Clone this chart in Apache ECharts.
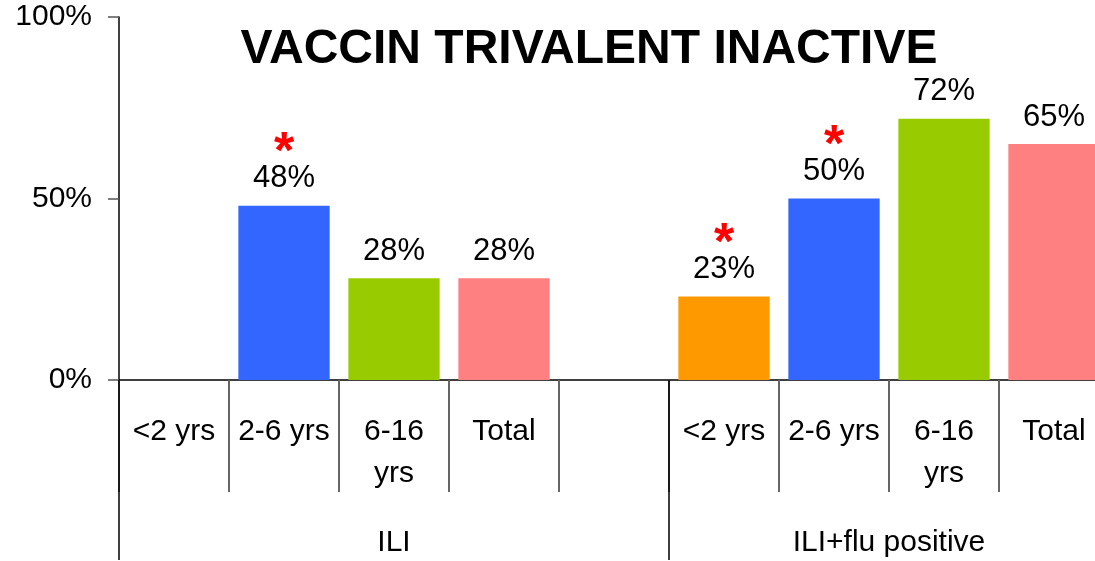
<!DOCTYPE html>
<html>
<head>
<meta charset="utf-8">
<script src="https://cdn.jsdelivr.net/npm/echarts@6/dist/echarts.min.js"></script>
<style>
  html, body { margin: 0; padding: 0; background: #fff; }
  #chart { width: 1095px; height: 561px; }
</style>
</head>
<body>
<div id="chart"></div>
<script>
var categories = ['<2 yrs', '2-6 yrs', '6-16\nyrs', 'Total', '', '<2 yrs', '2-6 yrs', '6-16\nyrs', 'Total']
var values = [null, 48, 28, 28, null, 23, 50, 72, 65]
var significant = [false, true, false, false, false, true, true, false, false]
var groupNames = ['ILI', 'ILI+flu positive']
var groupCenters = [2.5, 7]
var groupBounds = [0, 5]
var yTicks = [0, 50, 100]

var ageColors = {
  '<2 yrs': '#FF9900',
  '2-6 yrs': '#3366FF',
  '6-16\nyrs': '#99CC00',
  'Total': '#FF8080'
}
var font = "'Liberation Sans', Arial, sans-serif"

var myChart = echarts.init(document.getElementById('chart'))

var option = {
  animation: false,
  title: {
    text: 'VACCIN TRIVALENT INACTIVE',
    left: 584,
    top: 21,
    textAlign: 'center',
    textStyle: { fontFamily: font, fontSize: 48, fontWeight: 'bold', color: '#000' }
  },
  // plot runs past the right edge of the picture, as in the original
  grid: { left: 119, width: 990, top: 17, height: 363, outerBoundsMode: 'none' },
  xAxis: [
    {
      type: 'category',
      data: categories,
      boundaryGap: true,
      axisLine: { lineStyle: { color: '#000', width: 1.5 } },
      axisTick: { show: true, interval: 0, length: 112, lineStyle: { color: '#666', width: 2 } },
      axisLabel: {
        interval: 0,
        margin: 31,
        fontFamily: font,
        fontSize: 30,
        lineHeight: 42,
        color: '#000'
      }
    },
    {
      type: 'value',
      position: 'bottom',
      min: 0,
      max: 9,
      axisLine: { show: false },
      splitLine: { show: false },
      axisTick: {
        show: true,
        customValues: groupBounds,
        length: 180,
        lineStyle: { color: '#000', width: 1.5 }
      },
      axisLabel: {
        customValues: groupCenters,
        margin: 147,
        fontFamily: font,
        fontSize: 30,
        lineHeight: 32,
        color: '#000',
        formatter: function (v) {
          return groupNames[groupCenters.indexOf(v)]
        }
      }
    }
  ],
  yAxis: {
    type: 'value',
    min: 0,
    max: 100,
    interval: 50,
    splitLine: { show: false },
    axisLine: { show: true, lineStyle: { color: '#000', width: 1.5 } },
    axisTick: { show: true, length: 11, lineStyle: { color: '#555', width: 1.5 } },
    axisLabel: {
      margin: 27,
      fontFamily: font,
      fontSize: 30,
      color: '#000',
      customValues: yTicks,
      formatter: '{value}%'
    }
  },
  series: [
    {
      type: 'bar',
      barCategoryGap: '17%',
      data: values.map(function (v, i) {
        return {
          value: v,
          itemStyle: { color: ageColors[categories[i]] }
        }
      }),
      label: {
        show: true,
        position: 'top',
        distance: 10,
        formatter: function (p) {
          if (p.value == null) return ''
          var s = '{val|' + p.value + '%}'
          if (significant[p.dataIndex]) s = '{star|*}\n' + s
          return s
        },
        rich: {
          val: { fontFamily: font, fontSize: 31, lineHeight: 34, color: '#000' },
          star: { fontFamily: font, fontSize: 52, fontWeight: 'bold', lineHeight: 24, color: '#FF0000', padding: [0, 0, -8, 0] }
        }
      }
    }
  ]
}

myChart.setOption(option)
</script>
</body>
</html>
